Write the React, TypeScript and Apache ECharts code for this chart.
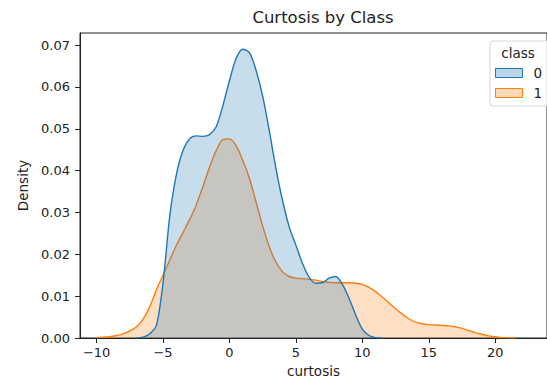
import React, { useEffect, useRef } from "react";
import * as echarts from "echarts";

const chartTitle = "Curtosis by Class";
const xAxisName = "curtosis";
const yAxisName = "Density";
const legendTitle = "class";
const classNames = ["0", "1"];

const class0Curtosis = [
  -7.0, -6.5, -6.0, -5.5, -5.0, -4.5, -4.0, -3.5, -3.0, -2.5, -2.0, -1.5, -1.0, -0.5,
  0.0, 0.5, 1.0, 1.5, 2.0, 2.5, 3.0, 3.5, 4.0, 4.5, 5.0, 5.5, 6.0, 6.5, 7.0, 7.5,
  8.0, 8.5, 9.0, 9.5, 10.0, 10.5, 11.0, 11.5,
];
const class0Density = [
  0, 0.0002, 0.001, 0.003, 0.0132, 0.029, 0.039, 0.0448, 0.0476, 0.0483, 0.0482, 0.0486,
  0.0505, 0.0555, 0.0615, 0.0668, 0.069, 0.0682, 0.064, 0.0578, 0.0495, 0.0405, 0.0328,
  0.0265, 0.0222, 0.0178, 0.0145, 0.0131, 0.0132, 0.0143, 0.0147, 0.0128, 0.0095, 0.0055,
  0.0021, 0.0006, 0.0001, 0,
];

const class1Curtosis = [
  -10.0, -9.5, -9.0, -8.5, -8.0, -7.5, -7.0, -6.5, -6.0, -5.5, -5.0, -4.5, -4.0, -3.5,
  -3.0, -2.5, -2.0, -1.5, -1.0, -0.5, 0.0, 0.5, 1.0, 1.5, 2.0, 2.5, 3.0, 3.5, 4.0, 4.5,
  5.0, 5.5, 6.0, 6.5, 7.0, 7.5, 8.0, 8.5, 9.0, 9.5, 10.0, 10.5, 11.0, 11.5, 12.0, 12.5,
  13.0, 13.5, 14.0, 14.5, 15.0, 15.5, 16.0, 16.5, 17.0, 17.5, 18.0, 18.5, 19.0, 19.5,
  20.0, 20.5, 21.0, 21.5,
];
const class1Density = [
  0.0001, 0.0002, 0.0003, 0.0006, 0.001, 0.0017, 0.0027, 0.0045, 0.0075, 0.0115, 0.015,
  0.0186, 0.0221, 0.0252, 0.0283, 0.0318, 0.0362, 0.0408, 0.0448, 0.0474, 0.0476, 0.046,
  0.0425, 0.0382, 0.0325, 0.0268, 0.0218, 0.0181, 0.0158, 0.0147, 0.0143, 0.0142, 0.014,
  0.0138, 0.0135, 0.0133, 0.0132, 0.0132, 0.0132, 0.0131, 0.0128, 0.0121, 0.0111, 0.0098,
  0.0084, 0.007, 0.0057, 0.0046, 0.0038, 0.0034, 0.0032, 0.0031, 0.003, 0.0029, 0.0027,
  0.0023, 0.0018, 0.0013, 0.0009, 0.0005, 0.0003, 0.0001, 0.0001, 0,
];

const xTicks = [-10, -5, 0, 5, 10, 15, 20];
const yTicks = [0, 0.01, 0.02, 0.03, 0.04, 0.05, 0.06, 0.07];

const FONT = "DejaVu Sans";
const BLUE = "#1f77b4";
const ORANGE = "#ff7f0e";

export default function App() {
  const ref = useRef<HTMLDivElement>(null);

  useEffect(() => {
    if (!ref.current) return;
    const chart = echarts.init(ref.current, null, { renderer: "svg" });
    const pairs = (xs: number[], ys: number[]) => xs.map((x, i) => [x, ys[i]]);

    chart.setOption({
      animation: false,
      backgroundColor: "#ffffff",
      title: {
        text: chartTitle,
        left: 318,
        textAlign: "center",
        top: 4,
        textStyle: { fontFamily: FONT, fontSize: 16.5, fontWeight: "normal", color: "#222" },
      },
      grid: {
        left: 80,
        top: 33,
        right: -10,
        bottom: 47,
        show: true,
        borderColor: "#222",
        borderWidth: 1,
        backgroundColor: "transparent",
      },
      xAxis: {
        type: "value",
        min: -11.25,
        max: 23.9,
        name: xAxisName,
        nameLocation: "middle",
        nameGap: 26,
        nameTextStyle: { fontFamily: FONT, fontSize: 13.5, color: "#222" },
        splitLine: { show: false },
        axisLine: { show: true, onZero: false, lineStyle: { color: "#222", width: 1 } },
        axisTick: {
          show: true,
          length: 5,
          customValues: xTicks,
          lineStyle: { color: "#222", width: 1 },
        },
        axisLabel: {
          customValues: xTicks,
          margin: 8,
          fontFamily: FONT,
          fontSize: 13,
          color: "#222",
          formatter: (v: number) => (v < 0 ? "\u2212" + Math.abs(v) : String(v)),
        },
      },
      yAxis: {
        type: "value",
        min: 0,
        max: 0.0729,
        name: yAxisName,
        nameLocation: "middle",
        nameGap: 49,
        nameRotate: 90,
        nameTextStyle: { fontFamily: FONT, fontSize: 13.5, color: "#222" },
        splitLine: { show: false },
        axisLine: { show: true, onZero: false, lineStyle: { color: "#222", width: 1 } },
        axisTick: {
          show: true,
          length: 5,
          customValues: yTicks,
          lineStyle: { color: "#222", width: 1 },
        },
        axisLabel: {
          customValues: yTicks,
          margin: 10,
          fontFamily: FONT,
          fontSize: 13,
          color: "#222",
          formatter: (v: number) => v.toFixed(2),
        },
      },
      legend: {
        orient: "vertical",
        left: 490,
        top: 41,
        padding: [24, 30, 5, 5],
        itemGap: 4,
        itemWidth: 27,
        itemHeight: 9,
        icon: "rect",
        backgroundColor: "rgba(255,255,255,0.8)",
        borderColor: "#d6d6d6",
        borderWidth: 1,
        borderRadius: 3,
        textStyle: {
          fontFamily: FONT,
          fontSize: 13.5,
          color: "#222",
          padding: [0, 0, 0, 6],
          lineHeight: 16,
        },
        data: [
          {
            name: classNames[0],
            itemStyle: { color: "rgba(31,119,180,0.3)", borderColor: BLUE, borderWidth: 1 },
          },
          {
            name: classNames[1],
            itemStyle: { color: "rgba(255,127,14,0.3)", borderColor: ORANGE, borderWidth: 1 },
          },
        ],
      },
      graphic: [
        {
          type: "text",
          x: 518,
          y: 53,
          style: {
            text: legendTitle,
            fontFamily: FONT,
            fontSize: 13.5,
            fill: "#222",
            textAlign: "center",
            textVerticalAlign: "middle",
          },
          z: 100,
        },
      ],
      series: [
        {
          name: classNames[1],
          type: "line",
          data: pairs(class1Curtosis, class1Density),
          smooth: 0.3,
          showSymbol: false,
          lineStyle: { color: ORANGE, width: 1.4 },
          itemStyle: { color: ORANGE },
          areaStyle: { color: ORANGE, opacity: 0.25 },
          z: 2,
        },
        {
          name: classNames[0],
          type: "line",
          data: pairs(class0Curtosis, class0Density),
          smooth: 0.3,
          showSymbol: false,
          lineStyle: { color: BLUE, width: 1.4 },
          itemStyle: { color: BLUE },
          areaStyle: { color: BLUE, opacity: 0.25 },
          z: 3,
        },
      ],
    });

    return () => chart.dispose();
  }, []);

  return (
    <div
      ref={ref}
      style={{ position: "fixed", left: 0, top: 0, width: 547, height: 385, background: "#fff" }}
    />
  );
}
